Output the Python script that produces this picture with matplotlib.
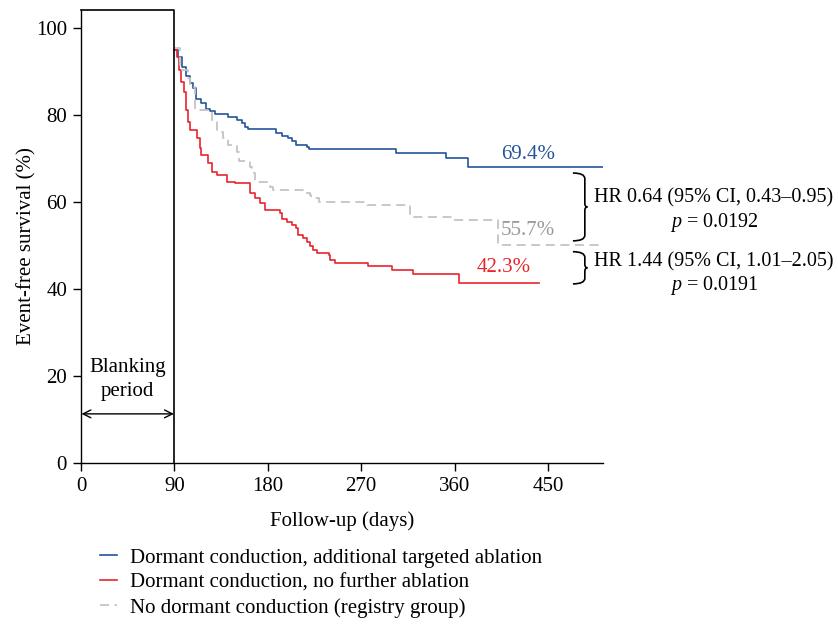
import matplotlib
matplotlib.use("Agg")
import matplotlib.pyplot as plt
from matplotlib.path import Path
from matplotlib.patches import PathPatch

plt.rcParams['font.family'] = ['Liberation Serif', 'DejaVu Serif']
plt.rcParams['mathtext.fontset'] = 'custom'
plt.rcParams['mathtext.rm'] = 'Liberation Serif'
plt.rcParams['mathtext.it'] = 'Liberation Serif:italic'
plt.rcParams['lines.scale_dashes'] = False

# ---------------- data ----------------
blue_t = [90, 93, 97, 101, 105, 108, 111, 116, 120, 124, 129, 142, 150, 155, 158,
          161, 188, 194, 199, 203, 207, 218, 220, 304, 352, 373, 504]
blue_s = [95.0, 93.5, 91.0, 89.0, 87.5, 86.2, 83.8, 82.9, 81.5, 80.9, 80.2, 79.7,
          79.0, 78.2, 77.4, 76.9, 76.0, 75.3, 74.8, 74.0, 73.2, 72.6, 72.2, 71.3,
          70.2, 68.2, 68.2]

red_t = [90, 92.6, 94.5, 96.8, 99, 101, 103.2, 105.5, 111.3, 114.5, 116.1, 122.5,
         125.8, 130.6, 140.3, 148.3, 162.8, 167.6, 172.5, 177.3, 191.8, 193.4,
         198.8, 203.1, 207.2, 209.5, 214.3, 217.6, 220.8, 224, 227.3, 238.5, 240.1,
         244.9, 276.8, 300, 320.3, 364.7, 441]
red_s = [95.0, 93.5, 90.4, 87.7, 85.4, 81.2, 78.5, 76.6, 74.7, 72.4, 70.9, 69.0,
         67.0, 66.3, 64.7, 64.4, 62.1, 60.9, 59.9, 58.2, 57.6, 56.1, 55.5, 54.8,
         54.0, 52.5, 51.7, 50.9, 49.8, 49.0, 48.3, 47.9, 46.7, 46.0, 45.4, 44.4,
         43.5, 41.4, 41.4]

gray_t = [90, 95, 103, 105, 110, 124, 126, 131, 137, 142, 150, 152, 163, 165, 168,
          179, 182, 185, 214, 221, 222, 229, 276, 313, 317, 359, 402, 504]
gray_s = [95.5, 90.4, 88.5, 86.4, 81.2, 80.8, 78.9, 76.2, 74.7, 73.2, 71.6, 69.5,
          68.2, 66.7, 64.7, 64.4, 63.6, 62.8, 62.1, 61.7, 60.9, 60.1, 59.4, 59.1,
          56.7, 55.8, 50.1, 50.1]

series_labels = ["Dormant conduction, additional targeted ablation",
                 "Dormant conduction, no further ablation",
                 "No dormant conduction (registry group)"]
final_labels = ["69.4%", "42.3%", "55.7%"]
hr_texts = ["HR 0.64 (95% CI, 0.43\u20130.95)", "$p$ = 0.0192",
            "HR 1.44 (95% CI, 1.01\u20132.05)", "$p$ = 0.0191"]
xticks = [0, 90, 180, 270, 360, 450]
yticks = [0, 20, 40, 60, 80, 100]

BLUE = '#24549a'
RED = '#e8252c'
GRAY = '#c4c4c4'
GRAY_TXT = '#9a9a9a'
FS = 15

W, H = 838, 626
fig = plt.figure(figsize=(W / 100, H / 100), dpi=100)
ax = fig.add_axes([81 / W, 1 - 463 / H, (603 - 81) / W, (463 - 10) / H])
XMAX, YMAX = 503, 104.2
ax.set_xlim(0, XMAX)
ax.set_ylim(0, YMAX)

lb, = ax.step(blue_t, blue_s, where='post', color=BLUE, lw=1.2, label=series_labels[0])
lr, = ax.step(red_t, red_s, where='post', color=RED, lw=1.2, label=series_labels[1])
lg, = ax.step(gray_t, gray_s, where='post', color=GRAY, lw=1.3, dashes=(6.5, 4),
              label=series_labels[2])

# frame
for s in ['top', 'right']:
    ax.spines[s].set_visible(False)
for s in ['left', 'bottom']:
    ax.spines[s].set_linewidth(1.0)
ax.plot([0, 90, 90], [YMAX, YMAX, 0], color='black', lw=1.2, clip_on=False, zorder=5)

ax.set_xticks(xticks)
ax.set_yticks(yticks)
ax.tick_params(direction='out', length=6, width=1.0, labelsize=FS, pad=4)
ax.set_xlabel("Follow-up (days)", fontsize=FS, labelpad=11)
ax.set_ylabel("Event-free survival (%)", fontsize=FS)
ax.yaxis.set_label_coords(-0.086, 50 / YMAX)

# blanking period
ax.text(45, 21.9, "Blanking", ha='center', va='center', fontsize=FS)
ax.text(45, 16.4, "period", ha='center', va='center', fontsize=FS)
ax.annotate('', xy=(0.5, 11.3), xytext=(89.5, 11.3),
            arrowprops=dict(arrowstyle='<->', lw=1.0, color='black',
                            shrinkA=0, shrinkB=0, mutation_scale=14))

# final labels
ax.text(431, 71.0, final_labels[0], color=BLUE, ha='center', va='center', fontsize=FS)
ax.text(407, 45.0, final_labels[1], color=RED, ha='center', va='center', fontsize=FS)
ax.text(431, 53.4, final_labels[2], color=GRAY_TXT, ha='center', va='center', fontsize=FS)


def brace(x0, x1, ytop, ybot, tip=2.5, ry=1.3):
    ymid = (ytop + ybot) / 2
    verts = [(x0, ytop), (x1, ytop), (x1, ytop - ry),
             (x1, ymid + 0.8),
             (x1, ymid), (x1 + tip, ymid),
             (x1, ymid), (x1, ymid - 0.8),
             (x1, ybot + ry),
             (x1, ybot), (x0, ybot)]
    codes = [Path.MOVETO, Path.CURVE3, Path.CURVE3,
             Path.LINETO,
             Path.CURVE3, Path.CURVE3,
             Path.CURVE3, Path.CURVE3,
             Path.LINETO,
             Path.CURVE3, Path.CURVE3]
    ax.add_patch(PathPatch(Path(verts, codes), fill=False, lw=1.2,
                           edgecolor='black', clip_on=False))


blue_end, red_end, gray_end = blue_s[-1], red_s[-1], gray_s[-1]
brace(474, 485.5, blue_end - 1.5, gray_end + 1.0)
brace(474, 485.5, gray_end - 1.5, red_end - 0.2)

xc = 610
FS_HR = 14.5
ax.text(xc, 61.0, hr_texts[0], ha='center', va='center', fontsize=FS_HR)
ax.text(xc, 55.4, hr_texts[1], ha='center', va='center', fontsize=FS_HR)
ax.text(xc, 46.3, hr_texts[2], ha='center', va='center', fontsize=FS_HR)
ax.text(xc, 40.8, hr_texts[3], ha='center', va='center', fontsize=FS_HR)

ax.legend(handles=[lb, lr, lg], loc='upper left',
          bbox_to_anchor=(100 / W, 1 - 548 / H), bbox_transform=fig.transFigure,
          frameon=False, fontsize=FS, handlelength=0.8, handletextpad=0.65,
          borderpad=0, borderaxespad=0, labelspacing=0.26)

fig.savefig("out.png", dpi=100)
